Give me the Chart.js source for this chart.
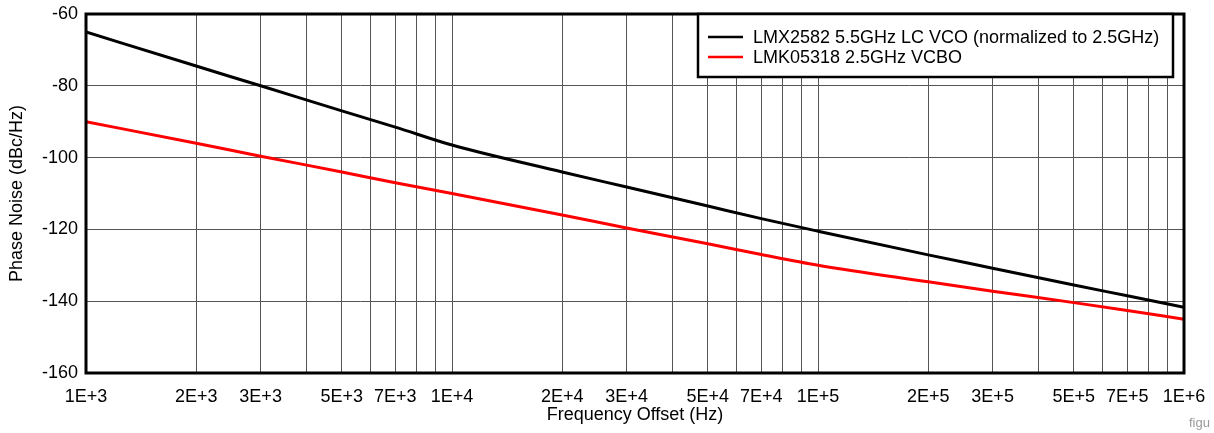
<!DOCTYPE html>
<html>
<head>
<meta charset="utf-8">
<script src="https://cdn.jsdelivr.net/npm/chart.js@4.4.1/dist/chart.umd.min.js"></script>
<style>
	html, body { margin: 0; padding: 0; background: #fff; }
	#wrap { position: relative; width: 1214px; height: 433px; }
	#note { position: absolute; left: 1189px; top: 415px; font: 13px "Liberation Sans", Arial, sans-serif; color: #999; }
</style>
</head>
<body>
<div id="wrap">
	<canvas id="chart" width="1214" height="433"></canvas>
	<div id="note">figu</div>
</div>
<script>
// Frequency offsets (Hz)
const freqs = [1e3, 2e3, 3e3, 5e3, 7e3, 1e4, 2e4, 3e4, 5e4, 7e4, 1e5, 2e5, 3e5, 5e5, 7e5, 1e6];

// Phase noise (dBc/Hz)
const lmx2582 = [-65, -74.5, -80, -87, -91.5, -96.5, -104, -108.2, -113.5, -117, -120.5, -127.1, -130.8, -135.5, -138.5, -141.7];
const lmk05318 = [-90, -96, -99.6, -104, -107, -110, -116, -119.6, -124, -127, -130, -134.6, -137.2, -140.4, -142.6, -145];

const seriesLabels = ["LMX2582 5.5GHz LC VCO (normalized to 2.5GHz)", "LMK05318 2.5GHz VCBO"];
const seriesColors = ["#000000", "#ff0000"];

// Grid line positions on the log axis and the ones that get a label
const xGridValues = [
	1e3, 2e3, 3e3, 4e3, 5e3, 6e3, 7e3, 8e3, 9e3,
	1e4, 2e4, 3e4, 4e4, 5e4, 6e4, 7e4, 8e4, 9e4,
	1e5, 2e5, 3e5, 4e5, 5e5, 6e5, 7e5, 8e5, 9e5,
	1e6,
];
const xTickValues = [1e3, 2e3, 3e3, 5e3, 7e3, 1e4, 2e4, 3e4, 5e4, 7e4, 1e5, 2e5, 3e5, 5e5, 7e5, 1e6];
const xTickLabels = ["1E+3", "2E+3", "3E+3", "5E+3", "7E+3", "1E+4", "2E+4", "3E+4", "5E+4", "7E+4", "1E+5", "2E+5", "3E+5", "5E+5", "7E+5", "1E+6"];
const yTicks = [-160, -140, -120, -100, -80, -60];

const FONT = "'Liberation Sans', Arial, sans-serif";

// Thick frame round the plot area
const framePlugin = {
	id: "frame",
	afterDatasetsDraw(chart) {
		const { ctx, chartArea: a } = chart;
		ctx.save();
		ctx.strokeStyle = "#000";
		ctx.lineWidth = 3;
		ctx.strokeRect(a.left, a.top, a.right - a.left, a.bottom - a.top);
		ctx.restore();
	},
};

// Boxed legend in the top right corner
const legendBoxPlugin = {
	id: "legendBox",
	afterDraw(chart) {
		const { ctx, chartArea: a } = chart;
		const x0 = 698, x1 = a.right - 11, y0 = a.top, y1 = 77;
		ctx.save();
		ctx.fillStyle = "#fff";
		ctx.fillRect(x0, y0, x1 - x0, y1 - y0);
		ctx.strokeStyle = "#000";
		ctx.lineWidth = 2.5;
		ctx.strokeRect(x0, y0, x1 - x0, y1 - y0);
		ctx.font = "18px " + FONT;
		ctx.textBaseline = "middle";
		chart.data.datasets.forEach((ds, i) => {
			const y = 37 + i * 20;
			ctx.strokeStyle = ds.borderColor;
			ctx.lineWidth = 2.5;
			ctx.beginPath();
			ctx.moveTo(708, y);
			ctx.lineTo(743, y);
			ctx.stroke();
			ctx.fillStyle = "#000";
			ctx.fillText(ds.label, 753, y + 1);
		});
		ctx.restore();
	},
};

function makeDataset(label, values, color) {
	return {
		label,
		data: freqs.map((f, i) => ({ x: f, y: values[i] })),
		borderColor: color,
		backgroundColor: color,
		borderWidth: 3,
		pointRadius: 0,
		cubicInterpolationMode: "monotone",
	};
}

new Chart(document.getElementById("chart"), {
	type: "line",
	data: {
		datasets: [
			makeDataset(seriesLabels[0], lmx2582, seriesColors[0]),
			makeDataset(seriesLabels[1], lmk05318, seriesColors[1]),
		],
	},
	options: {
		responsive: false,
		animation: false,
		layout: { padding: { top: 14, right: 30, left: 0, bottom: 0 } },
		plugins: {
			legend: { display: false },
			tooltip: { enabled: false },
		},
		scales: {
			x: {
				type: "logarithmic",
				min: 1e3,
				max: 1e6,
				afterBuildTicks: (scale) => {
					scale.ticks = xGridValues.map((v) => ({ value: v }));
				},
				afterFit: (scale) => {
					scale.height = 60;
					scale.paddingLeft = 0;
					scale.paddingRight = 0;
				},
				ticks: {
					autoSkip: false,
					maxRotation: 0,
					padding: 13,
					color: "#000",
					font: { family: FONT, size: 18 },
					callback: (v) => {
						const i = xTickValues.indexOf(v);
						return i >= 0 ? xTickLabels[i] : "";
					},
				},
				grid: { color: "#555", lineWidth: 1, drawTicks: false },
				border: { display: false },
				title: {
					display: true,
					text: "Frequency Offset (Hz)",
					color: "#000",
					font: { family: FONT, size: 18 },
					padding: { top: 0, bottom: 7 },
				},
			},
			y: {
				min: -160,
				max: -60,
				afterBuildTicks: (scale) => {
					scale.ticks = yTicks.map((v) => ({ value: v }));
				},
				afterFit: (scale) => {
					scale.width = 86;
					scale.paddingTop = 0;
					scale.paddingBottom = 0;
				},
				ticks: {
					padding: 8,
					color: "#000",
					font: { family: FONT, size: 18 },
				},
				grid: { color: "#555", lineWidth: 1, drawTicks: false },
				border: { display: false },
				title: {
					display: true,
					text: "Phase Noise (dBc/Hz)",
					color: "#000",
					font: { family: FONT, size: 18 },
					padding: { top: 6, bottom: 0 },
				},
			},
		},
	},
	plugins: [framePlugin, legendBoxPlugin],
});
</script>
</body>
</html>
